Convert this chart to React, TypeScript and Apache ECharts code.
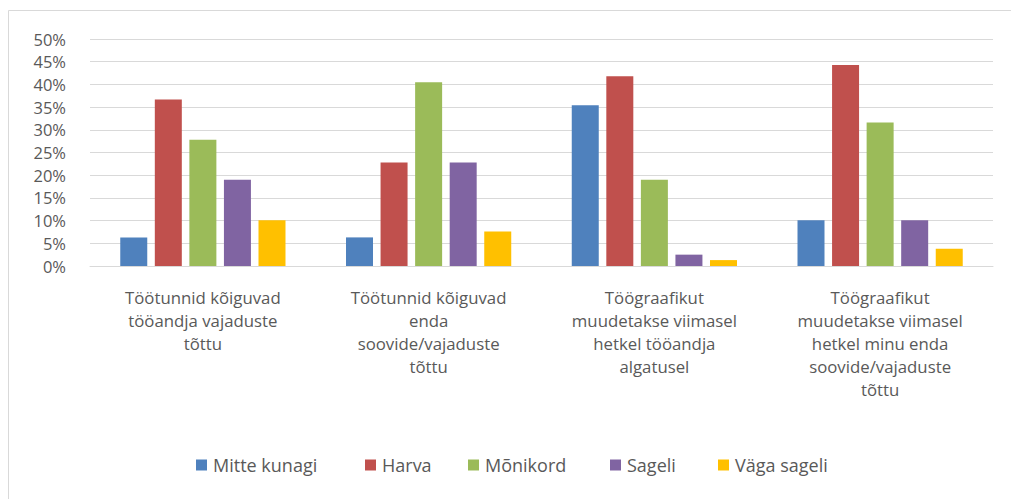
import React, { useEffect, useRef } from "react";
import * as echarts from "echarts";

const categories = [
  "Töötunnid kõiguvad\ntööandja vajaduste\ntõttu",
  "Töötunnid kõiguvad\nenda\nsoovide/vajaduste\ntõttu",
  "Töögraafikut\nmuudetakse viimasel\nhetkel tööandja\nalgatusel",
  "Töögraafikut\nmuudetakse viimasel\nhetkel minu enda\nsoovide/vajaduste\ntõttu",
];

const seriesNames = ["Mitte kunagi", "Harva", "Mõnikord", "Sageli", "Väga sageli"];
const mitteKunagi = [6.3, 6.3, 35.4, 10.1];
const harva = [36.7, 22.8, 41.8, 44.3];
const monikord = [27.8, 40.5, 19.0, 31.6];
const sageli = [19.0, 22.8, 2.5, 10.1];
const vagaSageli = [10.1, 7.6, 1.3, 3.8];
const seriesData = [mitteKunagi, harva, monikord, sageli, vagaSageli];
const colors = ["#4F81BD", "#C0504D", "#9BBB59", "#8064A2", "#FFC000"];
const legendLefts = [196, 365, 468, 610, 718];

const yMin = 0;
const yMax = 50;
const yStep = 5;

const FONT = "'Open Sans', 'Noto Sans', sans-serif";
const TEXT = "#595959";

export default function App() {
  const ref = useRef<HTMLDivElement>(null);
  useEffect(() => {
    if (!ref.current) return;
    const chart = echarts.init(ref.current, null, { renderer: "svg" });
    chart.setOption({
      animation: false,
      backgroundColor: "#ffffff",
      textStyle: { fontFamily: FONT },
      graphic: [
        {
          type: "rect",
          shape: { x: 8.5, y: 10.5, width: 1010, height: 500 },
          style: { fill: "none", stroke: "#D9D9D9", lineWidth: 1 },
          silent: true,
        },
      ],
      grid: { left: 90, right: 18, top: 39, bottom: 233, containLabel: false },
      legend: seriesNames.map((name, i) => ({
        left: legendLefts[i],
        top: 455,
        itemWidth: 11,
        itemHeight: 11,
        padding: 0,
        icon: "rect",
        textStyle: { fontFamily: FONT, fontSize: 18, lineHeight: 20, color: TEXT, padding: [0, 0, 0, 1] },
        data: [name],
      })),
      xAxis: {
        type: "category",
        data: categories,
        axisLine: { show: true, lineStyle: { color: "#D9D9D9", width: 1 } },
        axisTick: { show: false },
        axisLabel: {
          interval: 0,
          margin: 20,
          fontFamily: FONT,
          fontSize: 16.8,
          lineHeight: 23,
          color: TEXT,
          align: "center",
          verticalAlign: "top",
        },
      },
      yAxis: {
        type: "value",
        min: yMin,
        max: yMax,
        interval: yStep,
        axisLine: { show: false },
        axisTick: { show: false },
        splitLine: { show: true, lineStyle: { color: "#D9D9D9", width: 1 } },
        axisLabel: {
          formatter: "{value}%",
          margin: 24,
          fontFamily: FONT,
          fontSize: 16.5,
          lineHeight: 20,
          color: TEXT,
        },
      },
      series: seriesNames.map((name, i) => ({
        name,
        type: "bar",
        data: seriesData[i],
        barWidth: 27,
        barGap: "28%",
        itemStyle: { color: colors[i] },
      })),
    });
    return () => chart.dispose();
  }, []);
  return (
    <div
      ref={ref}
      style={{ position: "fixed", left: 0, top: 0, width: 1011, height: 499, background: "#fff" }}
    />
  );
}
